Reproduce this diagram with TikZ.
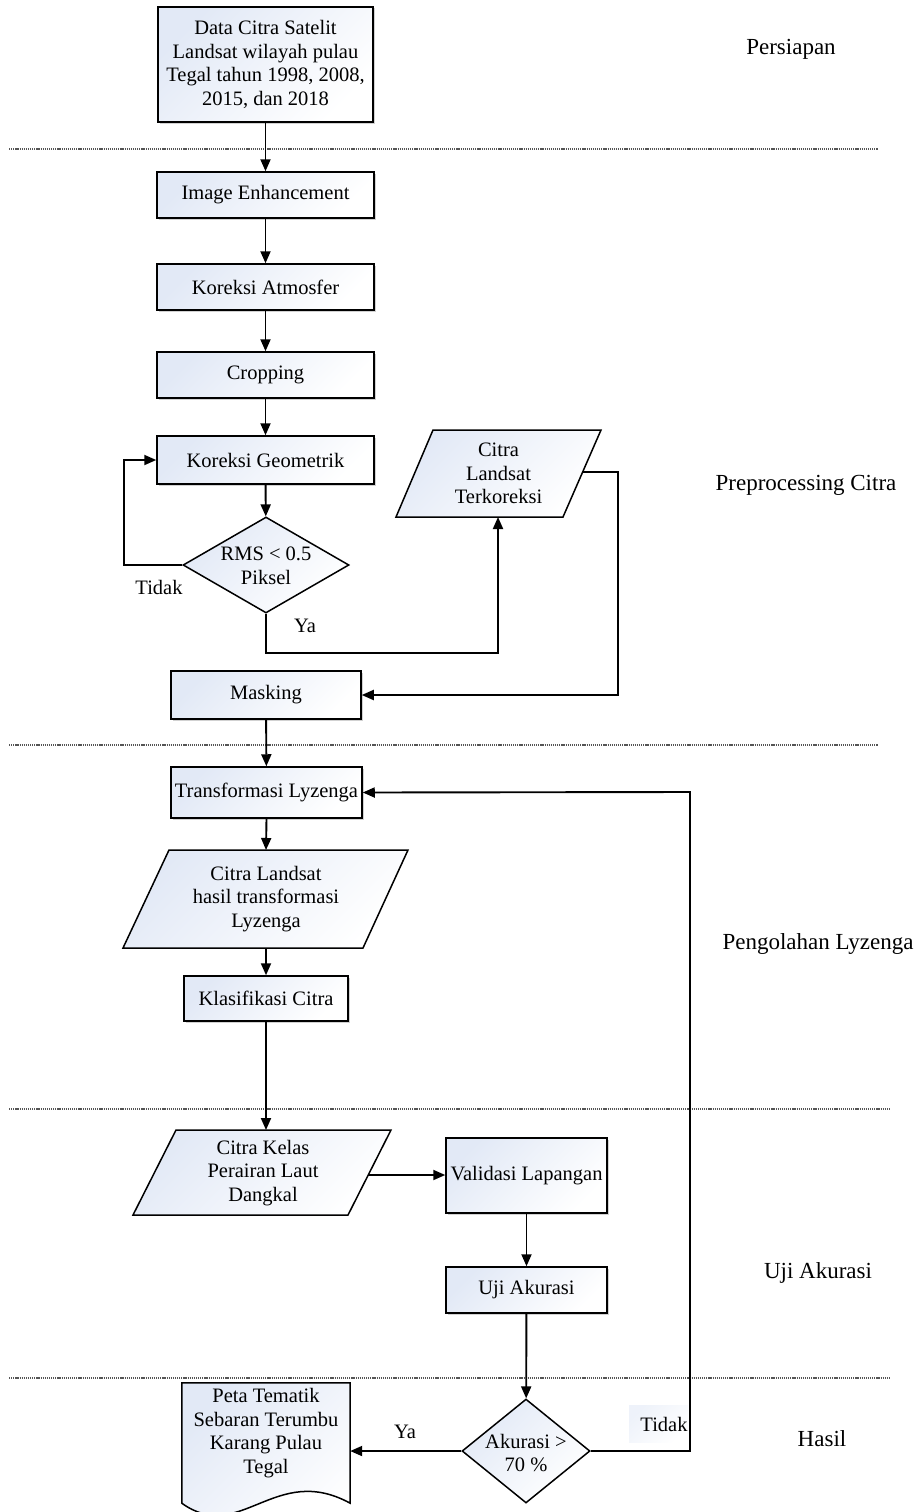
\documentclass[tikz,border=0pt]{standalone}
\usepackage{fontspec}
\setmainfont{Liberation Serif}
\usetikzlibrary{arrows.meta,shapes.geometric,shadows}
\definecolor{fillblue}{HTML}{E2E9F6}
\definecolor{sepgray}{HTML}{555555}
\begin{document}
\begin{tikzpicture}[x=1pt,y=-1pt,
  shd/.style={shading=axis, top color=fillblue, bottom color=white, shading angle=45},
  shdw/.style={drop shadow={shadow xshift=1.5pt, shadow yshift=-1.5pt, opacity=0.18, fill=black}},
  txt/.style={align=center, inner sep=0pt, font=\fontsize{20.5}{23.5}\selectfont},
  box/.style={txt, draw, line width=1.5pt, rectangle, shd, shdw},
  dia/.style={draw, line width=1.5pt, diamond, shd, inner sep=0pt},
  fshape/.style={draw, line width=1.5pt, shd},
  arr/.style={line width=1.9pt, -{Triangle[length=12pt,width=10pt]}},
  sep/.style={sepgray, line width=1.2pt, dash pattern=on 1.2pt off 0.9pt},
  side/.style={inner sep=0pt, font=\fontsize{23}{27}\selectfont},
  lab/.style={inner sep=0pt, font=\fontsize{20.5}{23.5}\selectfont}
]
\useasboundingbox (0,0) rectangle (920,1512);

% separators
\coordinate (s1a) at (9,149);  \coordinate (s1b) at (878,149);
\coordinate (s2a) at (9,745);  \coordinate (s2b) at (878,745);
\coordinate (s3a) at (9,1109); \coordinate (s3b) at (890,1109);
\coordinate (s4a) at (9,1378); \coordinate (s4b) at (890,1378);
\draw[sep] (s1a) -- (s1b);
\draw[sep] (s2a) -- (s2b);
\draw[sep] (s3a) -- (s3b);
\draw[sep] (s4a) -- (s4b);

% side labels
\node[side] (lp1) at (791,49) {Persiapan};
\node[side] (lp2) at (806,485) {Preprocessing Citra};
\node[side] (lp3) at (818,944) {Pengolahan Lyzenga};
\node[side] (lp4) at (818,1273) {Uji Akurasi};
\node[side] (lp5) at (822,1439) {Hasil};

% boxes
\node[box, minimum width=215, minimum height=115] (data) at (265.5,64.5)
  {Data Citra Satelit\\Landsat wilayah pulau\\Tegal tahun 1998, 2008,\\2015, dan 2018};
\node[box, minimum width=217, minimum height=46] (ie) at (265.5,195) {Image Enhancement};
\node[box, minimum width=217, minimum height=46] (ka) at (265.5,287) {Koreksi Atmosfer};
\node[box, minimum width=217, minimum height=46] (crop) at (265.5,375) {Cropping};
\node[box, minimum width=217, minimum height=48] (kg) at (265.5,460) {Koreksi Geometrik};
\node[dia, minimum width=166, minimum height=96] (rms) at (266,565) {};
\node[txt] (rmst) at (266,566) {RMS < 0.5\\Piksel};

% parallelogram 1
\coordinate (c1a) at (433,430); \coordinate (c1b) at (601,430);
\coordinate (c1c) at (563,517); \coordinate (c1d) at (396,517);
\path[fshape] (c1a) -- (c1b) -- (c1c) -- (c1d) -- cycle;
\node[txt] (c1) at (498.5,473.5) {Citra\\Landsat\\Terkoreksi};
\coordinate (c1bot) at (498,517);
\coordinate (c1r) at (583,472);

\node[box, minimum width=190, minimum height=48] (mask) at (266,695) {Masking};
\node[box, minimum width=191, minimum height=51] (tl) at (266.5,792.5) {Transformasi Lyzenga};

% parallelogram 2
\coordinate (c2a) at (169,850); \coordinate (c2b) at (408,850);
\coordinate (c2c) at (363,948); \coordinate (c2d) at (123,948);
\path[fshape] (c2a) -- (c2b) -- (c2c) -- (c2d) -- cycle;
\node[txt] (c2) at (266,899) {Citra Landsat\\hasil transformasi\\Lyzenga};
\coordinate (c2top) at (266,850);
\coordinate (c2bot) at (266,948);

\node[box, minimum width=164, minimum height=45] (klas) at (266,998.5) {Klasifikasi Citra};

% parallelogram 3
\coordinate (c3a) at (176,1130); \coordinate (c3b) at (391,1130);
\coordinate (c3c) at (348,1215); \coordinate (c3d) at (133,1215);
\path[fshape] (c3a) -- (c3b) -- (c3c) -- (c3d) -- cycle;
\node[txt] (c3) at (263,1173) {Citra Kelas\\Perairan Laut\\Dangkal};
\coordinate (c3top) at (266,1130);
\coordinate (c3r) at (368,1175);

\node[box, minimum width=161, minimum height=75] (valid) at (526.5,1175.5) {Validasi Lapangan};
\node[box, minimum width=161, minimum height=46] (uji) at (526.5,1290) {Uji Akurasi};
\node[dia, minimum width=128, minimum height=104] (akr) at (526,1451) {};
\node[txt] (akrt) at (526,1453) {Akurasi >\\70 \%};

% document shape
\node[minimum width=168, minimum height=120, inner sep=0pt] (doc) at (266,1443) {};
\path[fshape] (doc.north west) -- (doc.north east) -- (doc.south east)
  .. controls (275,1462) and (240,1545) .. (doc.south west) -- cycle;
\node[txt] (doct) at (266,1433) {Peta Tematik\\Sebaran Terumbu\\Karang Pulau\\Tegal};

% Tidak label background
\node[shading=axis, top color=fillblue!60, bottom color=white, shading angle=45,
      minimum width=59, minimum height=37, inner sep=0pt] (l4bg) at (658.5,1423.5) {};

% connectors
\draw[arr] (data) -- (ie);
\draw[arr] (ie) -- (ka);
\draw[arr] (ka) -- (crop);
\draw[arr] (crop) -- (kg);
\draw[arr] (kg) -- (rms);
\coordinate (loopx) at (124,565);
\draw[arr] (rms.west) -- (loopx) |- (kg.west);
\coordinate (yaturn) at (498,653);
\draw[arr] (rms.south) |- (yaturn) -- (c1bot);
\coordinate (mturn) at (618,695);
\draw[arr] (c1r) -| (mturn) -- (mask.east);
\draw[arr] (mask) -- (tl);
\draw[arr] (tl.south) -- (c2top);
\draw[arr] (c2bot) -- (klas.north);
\draw[arr] (klas.south) -- (c3top);
\draw[arr] (c3r) -- (c3r -| valid.west);
\draw[arr] (valid) -- (uji);
\draw[arr] (uji) -- (akr);
\draw[arr] (akr.west) -- (akr.west -| doc.east);
\coordinate (tup) at (690,792);
\draw[arr] (akr.east) -| (tup) -- (tl.east);

% labels
\node[lab] (l1) at (159,587) {Tidak};
\node[lab] (l2) at (305,626) {Ya};
\node[lab] (l3) at (405,1432) {Ya};
\node[lab] (l4) at (664,1424) {Tidak};
\end{tikzpicture}
\end{document}
